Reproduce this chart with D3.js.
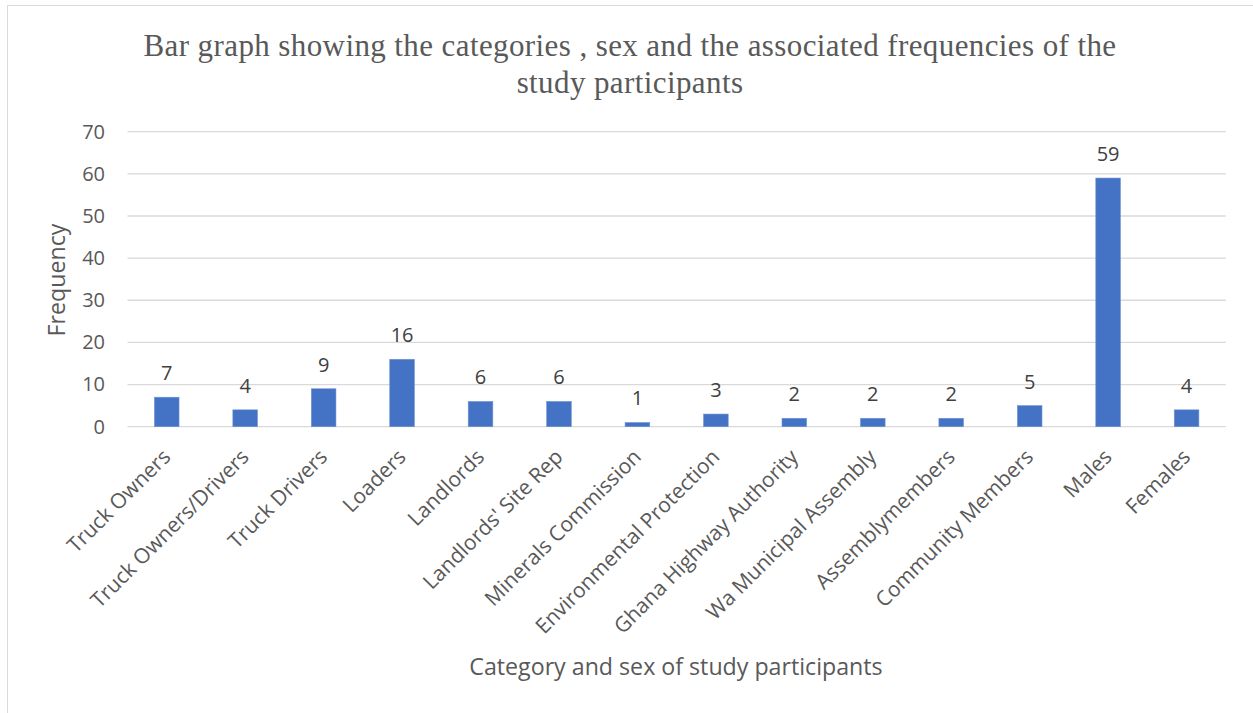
<!DOCTYPE html>
<html>
<head>
<meta charset="utf-8">
<script src="https://cdn.jsdelivr.net/npm/d3@7"></script>
<style>
  html, body { margin: 0; padding: 0; background: #fff; }
  svg { display: block; }
</style>
</head>
<body>
<svg id="chart" width="1253" height="713"></svg>
<script>
const categories = [
  "Truck Owners", "Truck Owners/Drivers", "Truck Drivers", "Loaders", "Landlords",
  "Landlords' Site Rep", "Minerals Commission", "Environmental Protection",
  "Ghana Highway Authority", "Wa Municipal Assembly", "Assemblymembers",
  "Community Members", "Males", "Females"
];
const frequencies = [7, 4, 9, 16, 6, 6, 1, 3, 2, 2, 2, 5, 59, 4];
const yTicks = [0, 10, 20, 30, 40, 50, 60, 70];
const titleLines = [
  "Bar graph showing the categories , sex and the associated frequencies of the",
  "study participants"
];
const xAxisTitle = "Category and sex of study participants";
const yAxisTitle = "Frequency";

const svg = d3.select("#chart");
const sans = "'Open Sans', sans-serif";

// chart border
svg.append("rect")
  .attr("x", 7.5).attr("y", 5.5).attr("width", 1300).attr("height", 800)
  .attr("fill", "none").attr("stroke", "#d9d9d9").attr("stroke-width", 1);

const x = d3.scaleBand()
  .domain(categories)
  .range([127.5, 1225.8])
  .paddingInner(0.686)
  .paddingOuter(0.343);

const y = d3.scaleLinear().domain([0, 70]).range([426.7, 131.7]);

// gridlines
svg.append("g")
  .selectAll("line")
  .data(yTicks)
  .join("line")
  .attr("x1", 127.5).attr("x2", 1225.8)
  .attr("y1", d => y(d)).attr("y2", d => y(d))
  .attr("stroke", "#d9d9d9").attr("stroke-width", 1.3);

// y axis labels
const yAxis = d3.axisLeft(y).tickValues(yTicks).tickSize(0).tickPadding(0);
const gy = svg.append("g").attr("transform", "translate(105,0)").call(yAxis);
gy.select(".domain").remove();
gy.selectAll("text")
  .attr("font-family", sans).attr("font-size", 20).attr("fill", "#595959");

// bars
svg.append("g")
  .selectAll("rect")
  .data(frequencies)
  .join("rect")
  .attr("x", (d, i) => x(categories[i]))
  .attr("width", x.bandwidth())
  .attr("y", d => y(d))
  .attr("height", d => y(0) - y(d))
  .attr("fill", "#4472c4")
  .attr("stroke", "#6f93d3").attr("stroke-width", 0.6);

// value labels
svg.append("g")
  .selectAll("text")
  .data(frequencies)
  .join("text")
  .attr("x", (d, i) => x(categories[i]) + x.bandwidth() / 2)
  .attr("y", d => y(d) - 17)
  .attr("text-anchor", "middle")
  .attr("font-family", sans).attr("font-size", 20).attr("fill", "#404040")
  .text(d => d);

// x axis category labels
const xAxis = d3.axisBottom(x).tickSize(0).tickPadding(0);
const gx = svg.append("g").attr("transform", "translate(0,426.7)").call(xAxis);
gx.select(".domain").remove();
gx.selectAll(".tick text")
  .attr("font-family", sans).attr("font-size", 21).attr("fill", "#595959")
  .attr("text-anchor", "end")
  .attr("dy", 0)
  .attr("x", 0).attr("y", 0)
  .attr("transform", "translate(5,31.5) rotate(-45)");

// title
svg.append("g")
  .selectAll("text")
  .data(titleLines)
  .join("text")
  .attr("x", 630)
  .attr("y", (d, i) => 56 + i * 36.5)
  .attr("text-anchor", "middle")
  .attr("font-family", "'Liberation Serif', 'Times New Roman', serif")
  .attr("font-size", 31)
  .attr("letter-spacing", 0.4)
  .attr("fill", "#595959")
  .text(d => d);

// axis titles
svg.append("text")
  .attr("x", 676).attr("y", 675)
  .attr("text-anchor", "middle")
  .attr("font-family", sans).attr("font-size", 23.2).attr("fill", "#595959")
  .text(xAxisTitle);

svg.append("text")
  .attr("transform", "translate(65,280) rotate(-90)")
  .attr("text-anchor", "middle")
  .attr("font-family", sans).attr("font-size", 23.2).attr("fill", "#595959")
  .text(yAxisTitle);
</script>
</body>
</html>
